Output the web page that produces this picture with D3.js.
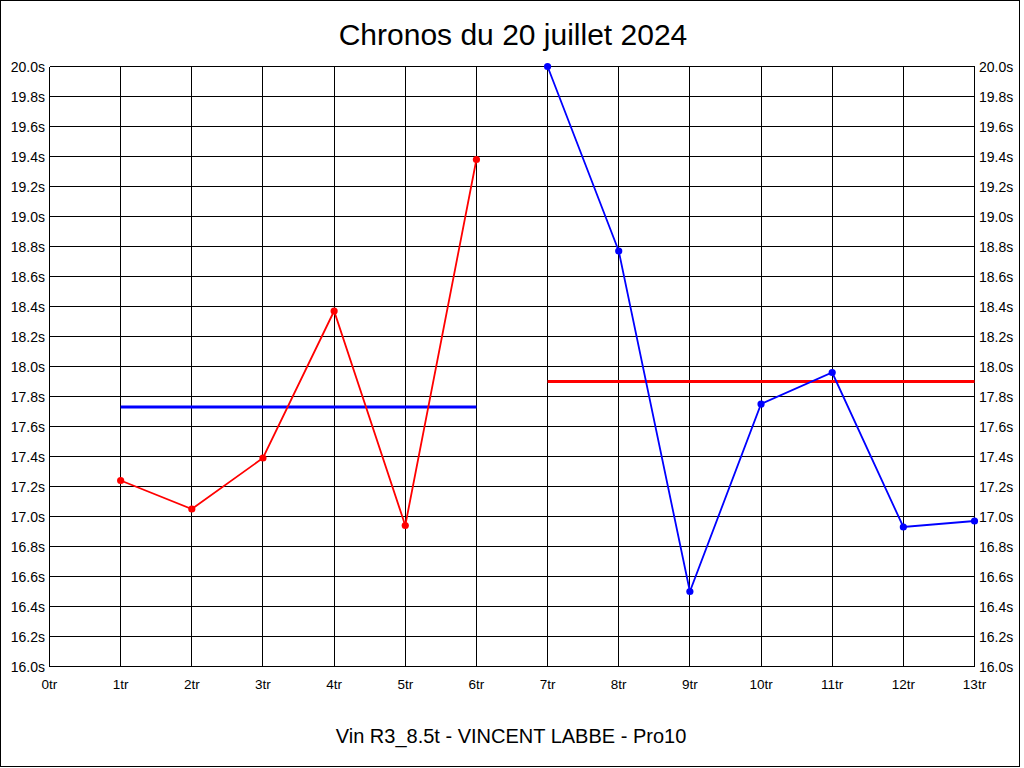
<!DOCTYPE html>
<html>
<head>
<meta charset="utf-8">
<script src="https://cdn.jsdelivr.net/npm/d3@7"></script>
<style>
  html, body { margin: 0; padding: 0; background: #fff; }
  svg { display: block; }
  text { font-family: "Liberation Sans", Arial, sans-serif; fill: #000; }
</style>
</head>
<body>
<script>
// ---- data ----
const titleText = "Chronos du 20 juillet 2024";
const footerText = "Vin R3_8.5t - VINCENT LABBE - Pro10";
const xTicks = [0,1,2,3,4,5,6,7,8,9,10,11,12,13];
const yTicks = [16.0,16.2,16.4,16.6,16.8,17.0,17.2,17.4,17.6,17.8,18.0,18.2,18.4,18.6,18.8,19.0,19.2,19.4,19.6,19.8,20.0];
const redLaps = [1,2,3,4,5,6];
const redTimes = [17.24, 17.05, 17.39, 18.37, 16.94, 19.38];
const blueLaps = [7,8,9,10,11,12,13];
const blueTimes = [20.0, 18.77, 16.50, 17.75, 17.96, 16.93, 16.97];
const blueAvgRange = [1, 6];
const blueAvgValue = 17.73;
const redAvgRange = [7, 13];
const redAvgValue = 17.90;

(function () {
// ---- layout ----
const W = 1024, H = 768;
const pLeft = 49.5, pRight = 974.5, pTop = 66.5, pBottom = 666.5;

const svg = d3.select("body").append("svg").attr("width", W).attr("height", H);

// outer border
svg.append("rect").attr("x", 0.5).attr("y", 0.5).attr("width", 1019).attr("height", 766)
  .attr("fill", "none").attr("stroke", "#000").attr("stroke-width", 1);

const x = d3.scaleLinear().domain([0, 13]).range([pLeft, pRight]);
const y = d3.scaleLinear().domain([16, 20]).range([pBottom, pTop]);

// grid
const grid = svg.append("g").attr("shape-rendering", "crispEdges");
grid.selectAll("line.h").data(yTicks).join("line").attr("class", "h")
  .attr("x1", pLeft).attr("x2", pRight)
  .attr("y1", d => y(d)).attr("y2", d => y(d))
  .attr("stroke", "#000").attr("stroke-width", 1);
grid.selectAll("line.v").data(xTicks).join("line").attr("class", "v")
  .attr("x1", d => x(d)).attr("x2", d => x(d))
  .attr("y1", pTop).attr("y2", pBottom)
  .attr("stroke", "#000").attr("stroke-width", 1);

// axes labels
const fmtY = d => d.toFixed(1) + "s";
svg.append("g").selectAll("text").data(yTicks).join("text")
  .attr("x", pLeft - 4.5).attr("y", d => y(d) + 5)
  .attr("text-anchor", "end").attr("font-size", 14).text(fmtY);
svg.append("g").selectAll("text").data(yTicks).join("text")
  .attr("x", pRight + 4.5).attr("y", d => y(d) + 5)
  .attr("text-anchor", "start").attr("font-size", 14).text(fmtY);
svg.append("g").selectAll("text").data(xTicks).join("text")
  .attr("x", d => x(d)).attr("y", pBottom + 22)
  .attr("text-anchor", "middle").attr("font-size", 13.5).text(d => d + "tr");

// average lines
svg.append("line")
  .attr("x1", x(blueAvgRange[0])).attr("x2", x(blueAvgRange[1]))
  .attr("y1", y(blueAvgValue)).attr("y2", y(blueAvgValue))
  .attr("stroke", "#0000ff").attr("stroke-width", 3);
svg.append("line")
  .attr("x1", x(redAvgRange[0])).attr("x2", x(redAvgRange[1]))
  .attr("y1", y(redAvgValue)).attr("y2", y(redAvgValue))
  .attr("stroke", "#ff0000").attr("stroke-width", 3);

// series
function series(laps, times, color) {
  const pts = laps.map((l, i) => [l, times[i]]);
  const line = d3.line().x(d => x(d[0])).y(d => y(d[1]));
  svg.append("path").datum(pts).attr("d", line)
    .attr("fill", "none").attr("stroke", color).attr("stroke-width", 1.8);
  svg.append("g").selectAll("circle").data(pts).join("circle")
    .attr("cx", d => x(d[0])).attr("cy", d => y(d[1])).attr("r", 3.6)
    .attr("fill", color);
}
series(redLaps, redTimes, "#ff0000");
series(blueLaps, blueTimes, "#0000ff");

// title & footer
svg.append("text").attr("x", 513).attr("y", 45).attr("text-anchor", "middle")
  .attr("font-size", 30).text(titleText);
svg.append("text").attr("x", 511).attr("y", 743).attr("text-anchor", "middle")
  .attr("font-size", 20).text(footerText);
})();
</script>
</body>
</html>
